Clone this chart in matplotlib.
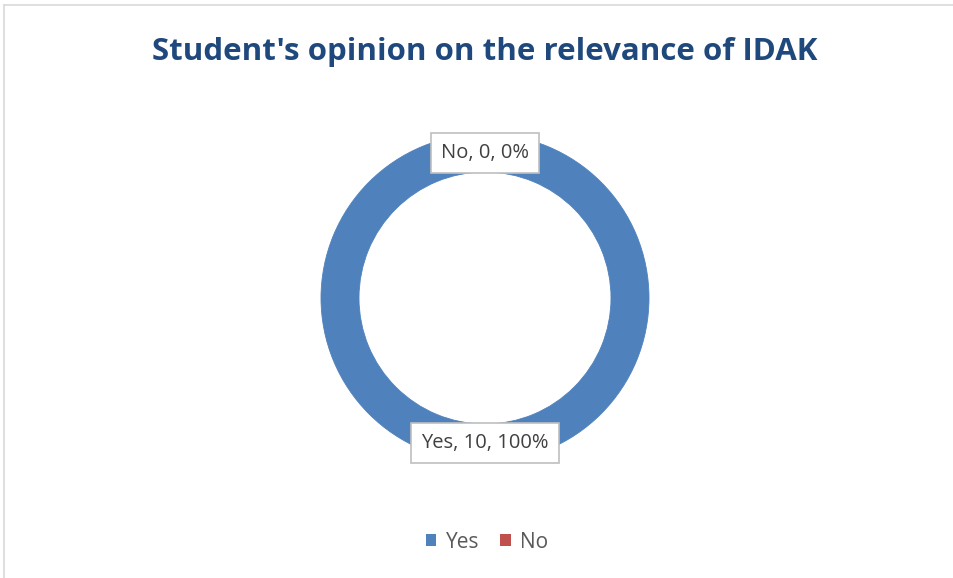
import numpy as np
import matplotlib.pyplot as plt
from matplotlib.lines import Line2D

categories = ["Yes", "No"]
counts = [10, 0]
colors = ["#4F81BD", "#C0504D"]
title = "Student's opinion on the relevance of IDAK"

W, H = 954, 578
fig = plt.figure(figsize=(W / 100, H / 100), dpi=100)
fig.patch.set_facecolor("white")

# chart area border (top and left edges visible)
fig.add_artist(Line2D([4.5 / W, 4.5 / W], [0, 1 - 5 / H], transform=fig.transFigure,
                      color="#D9D9D9", lw=1.2))
fig.add_artist(Line2D([4.5 / W, 1], [1 - 5 / H, 1 - 5 / H], transform=fig.transFigure,
                      color="#D9D9D9", lw=1.2))

# donut axes: centre at (485, 298) px, outer radius 164 px
cx, cy, R = 485, 298, 164
lim = 1.2
size = R * lim * 2
ax = fig.add_axes([(cx - size / 2) / W, (H - cy - size / 2) / H, size / W, size / H])

ring = 38 / 164
wedges, _ = ax.pie(counts, colors=colors, startangle=90, counterclock=False,
                   radius=1, wedgeprops=dict(width=ring, edgecolor="none"))
# hide the seam where the full wedge closes on itself
wedges[0].set_edgecolor(colors[0])
wedges[0].set_linewidth(0.6)
ax.set_xlim(-lim, lim)
ax.set_ylim(-lim, lim)
ax.set_aspect("equal")
ax.axis("off")

total = sum(counts)
label_r = 1 - ring / 2
for w, cat, n in zip(wedges, categories, counts):
    mid = np.deg2rad((w.theta1 + w.theta2) / 2)
    pct = 100 * n / total
    ax.text(label_r * np.cos(mid), label_r * np.sin(mid), f"{cat}, {n}, {pct:.0f}%",
            ha="center", va="center", fontsize=14.5, color="#404040",
            family="Open Sans", zorder=5,
            bbox=dict(boxstyle="square,pad=0.5", fc="white", ec="#BFBFBF", lw=1.2))

fig.text(cx / W, 1 - 52 / H, title, ha="center", va="center", fontsize=22.5,
         fontweight="bold", color="#1F497D", family="Open Sans")

handles = [plt.Rectangle((0, 0), 1, 1, fc=c, ec="none") for c in colors]
fig.legend(handles, categories, loc="center", bbox_to_anchor=(487 / W, 1 - 542 / H),
           ncol=2, frameon=False, handlelength=0.5, handleheight=0.5,
           handletextpad=0.45, columnspacing=1.0,
           prop=dict(family="Open Sans", size=15), labelcolor="#595959")

fig.savefig("out.png", dpi=100)
